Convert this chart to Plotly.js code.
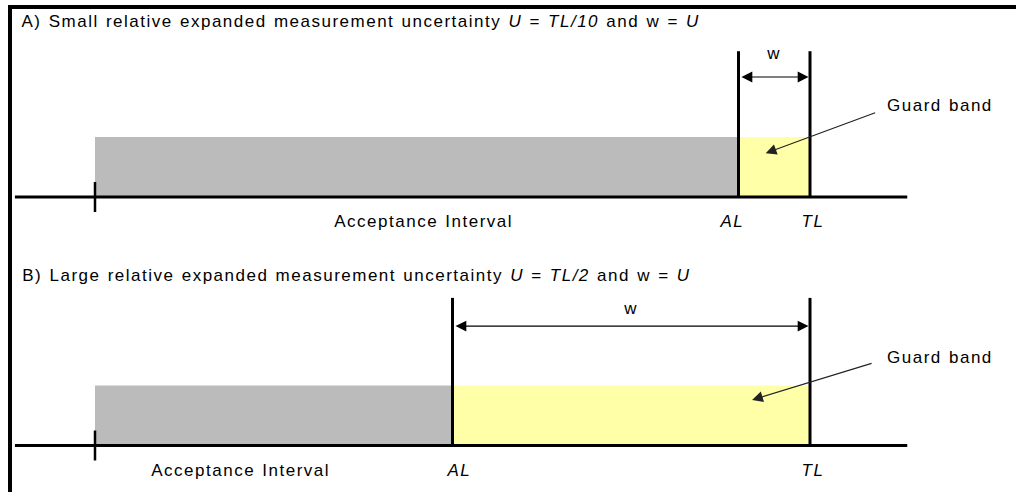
<!DOCTYPE html>
<html>
<head>
<meta charset="utf-8">
<script src="https://cdn.plot.ly/plotly-3.0.1.min.js"></script>
<style>
html,body{margin:0;padding:0;background:#fff;}
#chart{width:1016px;height:492px;}
#chart text.annotation-text{letter-spacing:1.5px;word-spacing:1px;}
</style>
</head>
<body>
<div id="chart"></div>
<script>
// ---- chart values (units relative to the tolerance limit TL = 10) ----
const panelLabels = ['A', 'B'];
const panelTitles = [
  'A) Small relative expanded measurement uncertainty <i>U</i> = <i>TL/10</i> and w = <i>U</i>',
  'B) Large relative expanded measurement uncertainty <i>U</i> = <i>TL/2</i> and w = <i>U</i>'
];
const intervalStart = [0, 0];        // start of the acceptance interval
const toleranceLimit = [10, 10];     // TL
const uncertaintyU = [1, 5];         // U = TL/10 and U = TL/2
const acceptanceLimit = toleranceLimit.map((t, i) => t - uncertaintyU[i]); // AL = TL - w, w = U
const intervalLabel = 'Acceptance Interval';
const alLabel = '<i>AL</i>';
const tlLabel = '<i>TL</i>';
const wLabel = 'w';
const guardLabel = 'Guard band';

// ---- layout geometry (styling only) ----
const FONT = {family: 'Liberation Sans, Arial, sans-serif', size: 17, color: '#000'};
const yrefs = ['y', 'y2'];
const lineTop = [2.43, 2.46];
const arrowY = [2.0, 1.99];
const wY = [2.4, 2.29];
const guardY = [1.53, 1.475];
const headPos = [[9.38, 0.73], [9.19, 0.76]];
const tailOff = [[111, -41], [121, -37]];
const labelY = [-0.4, -0.41];
const aiX = [4.6, 2.04];
const titleX = [361 / 1016, 357 / 1016];
const titleY = [1 - 21 / 492, 1 - 275 / 492];

const shapes = [];
const annotations = [];

// outer frame (left and top edges)
const fx = 10 / 1016, fy = 1 - 7 / 492;
shapes.push({type: 'path', xref: 'paper', yref: 'paper',
  path: `M ${fx},-0.02 L ${fx},${fy} L 1.02,${fy}`,
  line: {color: '#000', width: 4}});

panelLabels.forEach((p, i) => {
  const yr = yrefs[i];
  const s = intervalStart[i], al = acceptanceLimit[i], tl = toleranceLimit[i];
  // acceptance interval (grey)
  shapes.push({type: 'rect', xref: 'x', yref: yr, x0: s, x1: al, y0: 0, y1: 1,
    fillcolor: '#BBBBBB', line: {width: 0}, layer: 'below'});
  // guard band (yellow)
  shapes.push({type: 'rect', xref: 'x', yref: yr, x0: al, x1: tl, y0: 0, y1: 1,
    fillcolor: '#FFFFA8', line: {width: 0}, layer: 'below'});
  // base line
  shapes.push({type: 'line', xref: 'x', yref: yr, x0: s - 1.12, x1: tl + 1.36, y0: 0, y1: 0,
    line: {color: '#000', width: 3}});
  // start tick
  shapes.push({type: 'line', xref: 'x', yref: yr, x0: s, x1: s, y0: -0.25, y1: 0.25,
    line: {color: '#000', width: 2.5}});
  // AL and TL vertical lines
  [al, tl].forEach(v => shapes.push({type: 'line', xref: 'x', yref: yr, x0: v, x1: v,
    y0: 0, y1: lineTop[i], line: {color: '#000', width: 3}}));

  // title
  annotations.push({xref: 'paper', yref: 'paper', x: titleX[i], y: titleY[i],
    xanchor: 'center', yanchor: 'middle', text: panelTitles[i], showarrow: false, font: FONT});
  // double arrow w
  annotations.push({xref: 'x', yref: yr, axref: 'x', ayref: yr, x: tl, y: arrowY[i],
    ax: al, ay: arrowY[i], text: '', showarrow: true, arrowside: 'end+start',
    arrowhead: 2, startarrowhead: 2, arrowsize: 1.8, startarrowsize: 1.8, arrowwidth: 1.2,
    arrowcolor: '#000', standoff: 1.5, startstandoff: 1.5});
  annotations.push({xref: 'x', yref: yr, x: (al + tl) / 2, y: wY[i], text: wLabel,
    showarrow: false, font: FONT, yanchor: 'middle'});
  // guard band label + pointer
  annotations.push({xref: 'x', yref: yr, x: (tl + 1.82), y: guardY[i], text: guardLabel,
    showarrow: false, font: FONT, yanchor: 'middle'});
  annotations.push({xref: 'x', yref: yr, x: headPos[i][0], y: headPos[i][1],
    ax: tailOff[i][0], ay: tailOff[i][1], text: '', showarrow: true,
    arrowhead: 2, arrowsize: 1.8, arrowwidth: 1.2, arrowcolor: '#222'});
  // axis labels
  annotations.push({xref: 'x', yref: yr, x: aiX[i], y: labelY[i], text: intervalLabel,
    showarrow: false, font: FONT, yanchor: 'middle'});
  annotations.push({xref: 'x', yref: yr, x: al + (i === 0 ? -0.09 : 0.09), y: labelY[i], text: alLabel,
    showarrow: false, font: FONT, yanchor: 'middle'});
  annotations.push({xref: 'x', yref: yr, x: tl + 0.04, y: labelY[i], text: tlLabel,
    showarrow: false, font: FONT, yanchor: 'middle'});
});

const hidden = {visible: false, showgrid: false, zeroline: false, fixedrange: true};
const layout = {
  width: 1016, height: 492,
  margin: {l: 0, r: 0, t: 0, b: 0},
  paper_bgcolor: '#fff', plot_bgcolor: '#fff',
  showlegend: false,
  xaxis: Object.assign({range: [-95 / 71.5, 921 / 71.5], domain: [0, 1]}, hidden),
  yaxis: Object.assign({range: [-295 / 60, 197 / 60], domain: [0, 1]}, hidden),
  yaxis2: Object.assign({range: [-46.5 / 60, 445.5 / 60], domain: [0, 1], overlaying: 'y'}, hidden),
  shapes: shapes,
  annotations: annotations
};

const traces = [
  {x: [intervalStart[0]], y: [0], type: 'scatter', mode: 'markers', marker: {opacity: 0}, hoverinfo: 'skip', yaxis: 'y'},
  {x: [intervalStart[1]], y: [0], type: 'scatter', mode: 'markers', marker: {opacity: 0}, hoverinfo: 'skip', yaxis: 'y2'}
];

Plotly.newPlot('chart', traces, layout, {staticPlot: true, displayModeBar: false});
</script>
</body>
</html>
